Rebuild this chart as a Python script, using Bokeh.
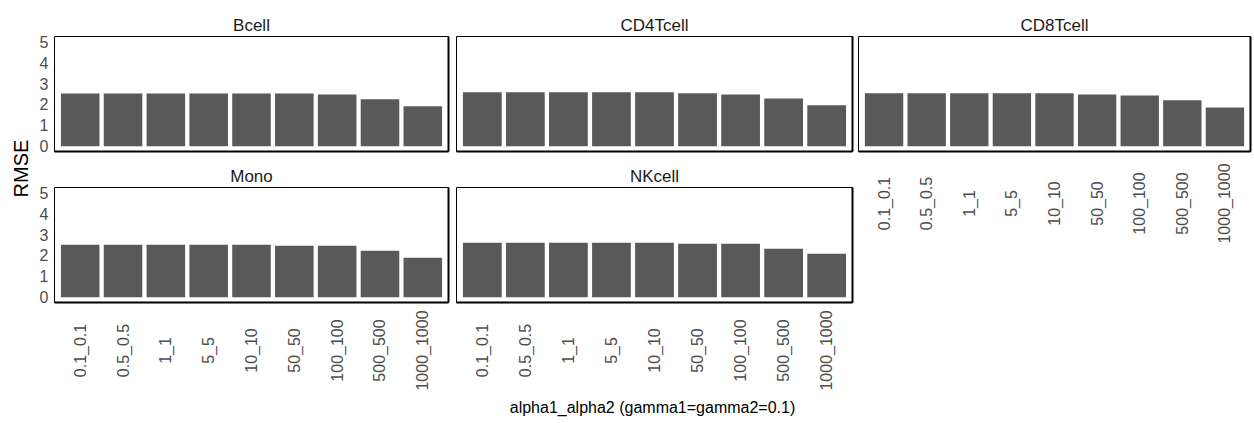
import math
from bokeh.plotting import figure
from bokeh.models import (FactorRange, Range1d, LinearAxis, FixedTicker,
                          ColumnDataSource, Spacer)
from bokeh.layouts import row, column
from bokeh.core.properties import value
from bokeh.embed import file_html
from bokeh.resources import INLINE

# ---------------- data ----------------
categories = ["0.1_0.1", "0.5_0.5", "1_1", "5_5", "10_10",
              "50_50", "100_100", "500_500", "1000_1000"]
bcell = [2.52, 2.52, 2.52, 2.52, 2.52, 2.52, 2.48, 2.25, 1.91]
cd4tcell = [2.58, 2.58, 2.58, 2.58, 2.58, 2.53, 2.48, 2.29, 1.96]
cd8tcell = [2.53, 2.53, 2.53, 2.53, 2.53, 2.48, 2.43, 2.20, 1.86]
mono = [2.51, 2.51, 2.51, 2.51, 2.51, 2.47, 2.47, 2.23, 1.89]
nkcell = [2.61, 2.61, 2.61, 2.61, 2.61, 2.56, 2.56, 2.32, 2.08]
y_ticks = [0, 1, 2, 3, 4, 5]
x_title = "alpha1_alpha2 (gamma1=gamma2=0.1)"
y_title = "RMSE"

# ---------------- style ----------------
FONT = "Liberation Sans"
BAR = "#595959"
TICK = "#4d4d4d"
STRIP = "#1a1a1a"
TICK_SIZE = "16px"


def make_xrange():
    return FactorRange(factors=categories, range_padding=0.2 / 9,
                       range_padding_units="percent")


def edge_axis():
    return LinearAxis(ticker=FixedTicker(ticks=[]), axis_line_color="black",
                      axis_line_width=2, major_tick_line_color=None,
                      minor_tick_line_color=None, major_tick_out=0,
                      minor_tick_out=0, major_label_standoff=0)


def panel(name, vals, xr, width, height, left, right, top, bottom, show_y):
    p = figure(width=width, height=height, x_range=xr,
               y_range=Range1d(-0.25, 5.25), title=name,
               toolbar_location=None, output_backend="svg",
               min_border_left=left, min_border_right=right,
               min_border_top=top, min_border_bottom=bottom)
    src = ColumnDataSource(dict(x=categories, top=vals))
    p.vbar(x="x", top="top", bottom=0, width=0.9, source=src,
           fill_color=BAR, line_color=None)
    p.xgrid.grid_line_color = None
    p.ygrid.grid_line_color = None
    p.outline_line_color = "black"
    p.outline_line_width = 1
    p.background_fill_color = "white"
    p.border_fill_color = "white"
    t = p.title
    t.align = "center"
    t.text_font = FONT
    t.text_font_size = "17px"
    t.text_font_style = "normal"
    t.text_color = STRIP
    t.standoff = 4
    # heavy bottom and right edges
    p.xaxis.visible = False
    p.add_layout(edge_axis(), "below")
    p.add_layout(edge_axis(), "right")
    ya = p.yaxis[0]
    if show_y:
        ya.ticker = FixedTicker(ticks=y_ticks)
        ya.major_label_text_font = FONT
        ya.major_label_text_font_size = TICK_SIZE
        ya.major_label_text_color = TICK
        ya.axis_line_color = None
        ya.major_tick_line_color = None
        ya.minor_tick_line_color = None
        ya.major_tick_out = 0
        ya.major_label_standoff = 6
    else:
        ya.visible = False
    return p


def label_strip(xr, width, height, left, right, center_from_top):
    p = figure(width=width, height=height, x_range=xr,
               y_range=Range1d(0, height), toolbar_location=None,
               output_backend="svg", min_border_left=left,
               min_border_right=right, min_border_top=0, min_border_bottom=0)
    p.axis.visible = False
    p.grid.grid_line_color = None
    p.outline_line_color = None
    src = ColumnDataSource(dict(x=categories,
                                y=[height - center_from_top] * len(categories),
                                t=categories))
    p.text(x="x", y="y", text="t", source=src, angle=math.pi / 2,
           text_align="center", text_baseline="middle",
           text_font=value(FONT), text_font_size=value(TICK_SIZE),
           text_color=TICK)
    return p


# column geometry
W1, L1, R1 = 422, 24, 4
W2, L2, R2 = 402, 4, 2
W3, L3, R3 = 400, 4, 4
H_ROW1, H_ROW2 = 155, 153
H_LAB2, H_LAB3 = 87, 96

xr_b, xr_c4, xr_c8, xr_m, xr_nk = (make_xrange() for _ in range(5))

p_b = panel("Bcell", bcell, xr_b, W1, H_ROW1, L1, R1, 36, 4, True)
p_c4 = panel("CD4Tcell", cd4tcell, xr_c4, W2, H_ROW1, L2, R2, 36, 4, False)
p_c8 = panel("CD8Tcell", cd8tcell, xr_c8, W3, H_ROW1, L3, R3, 36, 4, False)
p_m = panel("Mono", mono, xr_m, W1, H_ROW2, L1, R1, 32, 6, True)
p_nk = panel("NKcell", nkcell, xr_nk, W2, H_ROW2, L2, R2, 32, 6, False)

lab_m = label_strip(xr_m, W1, H_LAB2, L1, R1, 42)
lab_nk = label_strip(xr_nk, W2, H_LAB2, L2, R2, 42)
lab_c8 = label_strip(xr_c8, W3, H_LAB3, L3, R3, 48)

LEFT_H = H_ROW1 + H_ROW2 + H_LAB2

# y-axis title
p_y = figure(width=30, height=LEFT_H, x_range=Range1d(0, 30),
             y_range=Range1d(0, LEFT_H), toolbar_location=None,
             output_backend="svg", min_border=0)
p_y.axis.visible = False
p_y.grid.grid_line_color = None
p_y.outline_line_color = None
p_y.text(x=[20], y=[LEFT_H - 168], text=[y_title], angle=math.pi / 2,
         text_align="center", text_baseline="middle",
         text_font=value(FONT), text_font_size=value("20px"),
         text_color="black")

# x-axis title
TOTAL_W = 30 + W1 + W2 + W3
H_T = 423 - LEFT_H
p_x = figure(width=TOTAL_W, height=H_T, x_range=Range1d(0, TOTAL_W),
             y_range=Range1d(0, H_T), toolbar_location=None,
             output_backend="svg", min_border=0)
p_x.axis.visible = False
p_x.grid.grid_line_color = None
p_x.outline_line_color = None
p_x.text(x=[652], y=[H_T - 12], text=[x_title],
         text_align="center", text_baseline="middle",
         text_font=value(FONT), text_font_size=value("16px"),
         text_color="black")

left_block = column(row(p_b, p_c4), row(p_m, p_nk), row(lab_m, lab_nk))
right_block = column(p_c8, lab_c8,
                     Spacer(width=W3, height=LEFT_H - H_ROW1 - H_LAB3))
layout = column(row(p_y, left_block, right_block), p_x)

open("out.html", "w").write(file_html(layout, INLINE))
